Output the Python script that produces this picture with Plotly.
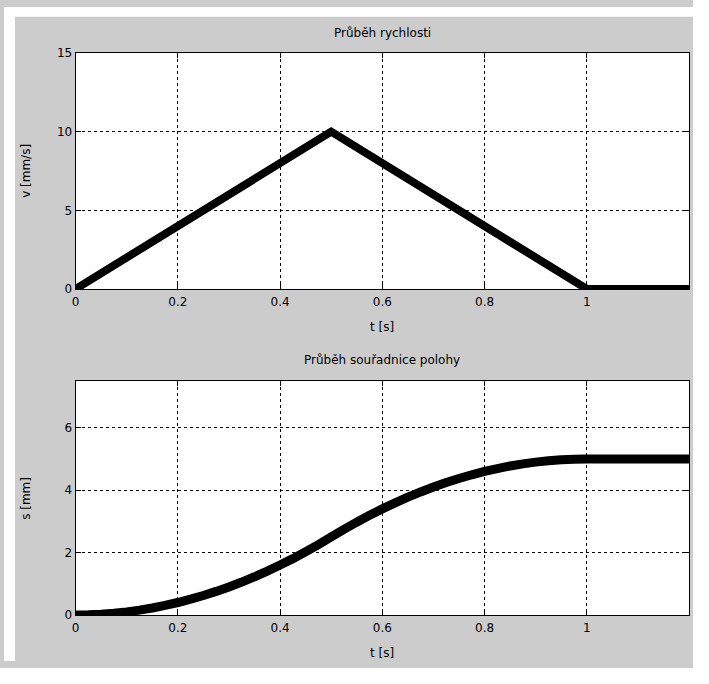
import plotly.graph_objects as go

# Figure kept slightly smaller than the window so the page never overflows;
# everything is positioned in window pixels (figure starts at the window origin).
W, H = 693, 668

# Data
t_v = [0, 0.5, 1.0, 1.2]
v = [0, 10, 0, 0]

t_s = [0, 0.025, 0.05, 0.075, 0.1, 0.125, 0.15, 0.175, 0.2, 0.225, 0.25, 0.275,
       0.3, 0.325, 0.35, 0.375, 0.4, 0.425, 0.45, 0.475, 0.5, 0.525, 0.55, 0.575,
       0.6, 0.625, 0.65, 0.675, 0.7, 0.725, 0.75, 0.775, 0.8, 0.825, 0.85, 0.875,
       0.9, 0.925, 0.95, 0.975, 1.0, 1.1, 1.2]
s = [0, 0.006, 0.025, 0.056, 0.1, 0.156, 0.225, 0.306, 0.4, 0.506, 0.625, 0.756,
     0.9, 1.056, 1.225, 1.406, 1.6, 1.806, 2.025, 2.256, 2.5, 2.744, 2.975, 3.194,
     3.4, 3.594, 3.775, 3.944, 4.1, 4.244, 4.375, 4.494, 4.6, 4.694, 4.775, 4.844,
     4.9, 4.944, 4.975, 4.994, 5.0, 5.0, 5.0]

x_ticks = [0, 0.2, 0.4, 0.6, 0.8, 1.0]
x_ticklabels = ["0", "0.2", "0.4", "0.6", "0.8", "1"]
v_ticks = [0, 5, 10, 15]
s_ticks = [0, 2, 4, 6]

titles = ["Průběh rychlosti", "Průběh souřadnice polohy"]
xlabel = "t [s]"
ylabels = ["v [mm/s]", "s [mm]"]

FONT = "DejaVu Sans"
GRAY = "#cccccc"


def px_x(x):
    return x / W


def px_y(y):
    return 1 - y / H


fig = go.Figure()
fig.add_trace(go.Scatter(x=t_v, y=v, mode="lines",
                         line=dict(color="black", width=8, simplify=False),
                         xaxis="x", yaxis="y", showlegend=False))
fig.add_trace(go.Scatter(x=t_s, y=s, mode="lines",
                         line=dict(color="black", width=9, simplify=False),
                         xaxis="x2", yaxis="y2", showlegend=False))

L, R = 72, 689
top1, bot1 = 47, 288
top2, bot2 = 382, 621

axis_common = dict(
    showline=True, linecolor="black", linewidth=1, mirror="ticks",
    ticks="inside", ticklen=5, tickcolor="black",
    showgrid=True, gridcolor="black", gridwidth=1, griddash="3px,3px",
    zeroline=False, tickfont=dict(family=FONT, size=12, color="#000000"),
)

fig.update_layout(
    width=W, height=H,
    margin=dict(l=0, r=0, t=0, b=0),
    paper_bgcolor=GRAY, plot_bgcolor="white",
    xaxis=dict(domain=[px_x(L), px_x(R)], range=[0, 1.2], tickvals=x_ticks,
               ticktext=x_ticklabels, anchor="y", ticklabelstandoff=2, **axis_common),
    yaxis=dict(domain=[px_y(bot1), px_y(top1)], range=[0, 15], tickvals=v_ticks,
               anchor="x", **axis_common),
    xaxis2=dict(domain=[px_x(L), px_x(R)], range=[0, 1.2], tickvals=x_ticks,
                ticktext=x_ticklabels, anchor="y2", ticklabelstandoff=2, **axis_common),
    yaxis2=dict(domain=[px_y(bot2), px_y(top2)], range=[0, 7.5], tickvals=s_ticks,
                anchor="x2", **axis_common),
)

shapes = [
    dict(type="rect", xref="paper", yref="paper", x0=0, x1=px_x(11), y0=0, y1=1,
         fillcolor="white", line=dict(width=0), layer="below"),
    dict(type="rect", xref="paper", yref="paper", x0=0, x1=1, y0=px_y(10), y1=1,
         fillcolor="white", line=dict(width=0), layer="below"),
]
fig.update_layout(shapes=shapes)

cx = px_x((L + R) / 2)
ann = []
for title, ty in zip(titles, [27, 361]):
    ann.append(dict(text=title, x=cx, y=px_y(ty), xref="paper", yref="paper",
                    showarrow=False, font=dict(family=FONT, size=12, color="black"),
                    xanchor="center", yanchor="middle"))
for ly in [327, 660]:
    ann.append(dict(text=xlabel, x=cx, y=px_y(ly), xref="paper", yref="paper",
                    showarrow=False, font=dict(family=FONT, size=12, color="black"),
                    xanchor="center", yanchor="middle"))
for lab, ly in zip(ylabels, [(top1 + bot1) / 2, (top2 + bot2) / 2]):
    ann.append(dict(text=lab, x=px_x(22), y=px_y(ly), xref="paper", yref="paper",
                    showarrow=False, textangle=-90,
                    font=dict(family=FONT, size=12, color="black"),
                    xanchor="center", yanchor="middle"))
fig.update_layout(annotations=ann)

fig.write_html("out.html")
